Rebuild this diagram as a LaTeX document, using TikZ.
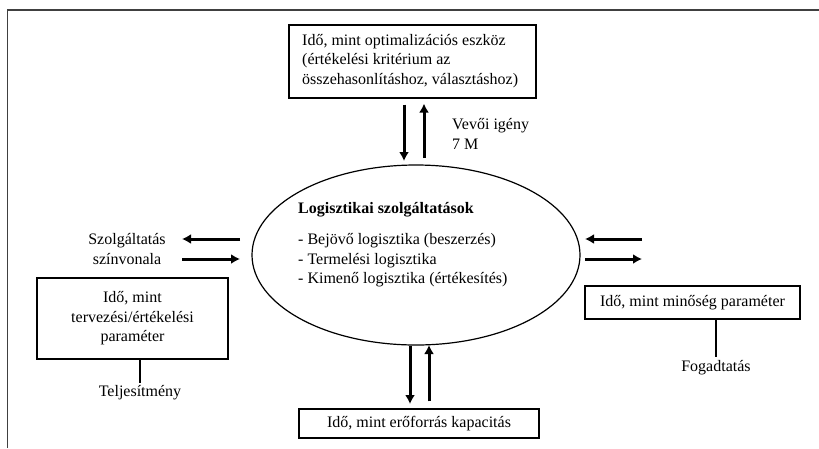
\documentclass[tikz,border=0pt]{standalone}
\usepackage{fontspec}
\setmainfont{Liberation Serif}
\usetikzlibrary{arrows.meta,shapes.geometric,calc}

\tikzset{
  box/.style={draw, line width=1.2pt, inner sep=0pt},
  flow/.style={line width=3pt, -{Latex[length=9pt,width=10pt]}},
  tie/.style={line width=2.6pt},
  lbl/.style={font=\fontsize{16}{19.5}\selectfont, inner sep=0pt},
}

\begin{document}
\begin{tikzpicture}[x=1pt,y=-1pt]
  \useasboundingbox (0,0) rectangle (819,448);
  \draw[line width=1.3pt, black!75] (7.5,448) -- (7.5,10) -- (819,10);

  % centre
  \node[draw, ellipse, line width=1.2pt, minimum width=328pt, minimum height=180pt] (ell) at (416,255) {};
  \node[lbl, align=left, anchor=north west] (svc) at (298,202)
    {\textbf{Logisztikai szolgáltatások}\\[12pt]
     - Bejövő logisztika (beszerzés)\\
     - Termelési logisztika\\
     - Kimenő logisztika (értékesítés)};

  % boxes
  \node[box, lbl, minimum width=247pt, minimum height=73pt] (opt) at (412.5,61.5) {};
  \node[lbl, align=left, anchor=north west] (optx) at (302,34)
    {Idő, mint optimalizációs eszköz\\(értékelési kritérium az\\összehasonlításhoz, választáshoz)};
  \node[box, lbl, align=center, minimum width=191pt, minimum height=81pt] (plan) at (132.5,318.5)
    {Idő, mint\\tervezési/értékelési\\paraméter};
  \node[box, lbl, minimum width=215pt, minimum height=33pt] (qual) at (692.5,302.5)
    {Idő, mint minőség paraméter};
  \node[box, lbl, minimum width=240pt, minimum height=29pt] (res) at (419,423.5)
    {Idő, mint erőforrás kapacitás};

  % labels
  \node[lbl, align=left, anchor=west] (need) at (452,134) {Vevői igény\\7 M};
  \node[lbl, align=center] (lvl) at (127,249) {Szolgáltatás\\színvonala};
  \node[lbl] (perf) at (140,393) {Teljesítmény};
  \node[lbl] (recv) at (716,368) {Fogadtatás};

  % free ends
  \coordinate (t1) at (404,161);
  \coordinate (t2) at (424,158);
  \coordinate (b1) at (410,404);
  \coordinate (b2) at (429,345);
  \coordinate (l1) at (182,239);
  \coordinate (l2) at (240,259);
  \coordinate (r1) at (585,239);
  \coordinate (r2) at (642,259);

  \draw[flow] ($(opt.south -| t1)+(0,6)$) -- (t1);
  \draw[flow] (t2) -- ($(opt.south -| t2)+(0,5)$);
  \draw[flow] (b1 |- ell.south) -- (b1);
  \draw[flow] ($(res.north -| b2)+(0,-7)$) -- (b2);
  \draw[flow] (l1 -| l2) -- (l1);
  \draw[flow] (l2 -| l1) -- (l2);
  \draw[flow] (r1 -| r2) -- (r1);
  \draw[flow] (r2 -| r1) -- (r2);

  \draw[tie] (plan.south -| perf) -- ($(perf.north)+(0,-3)$);
  \draw[tie] (qual.south -| recv) -- ($(recv.north)+(0,-4)$);
\end{tikzpicture}
\end{document}
